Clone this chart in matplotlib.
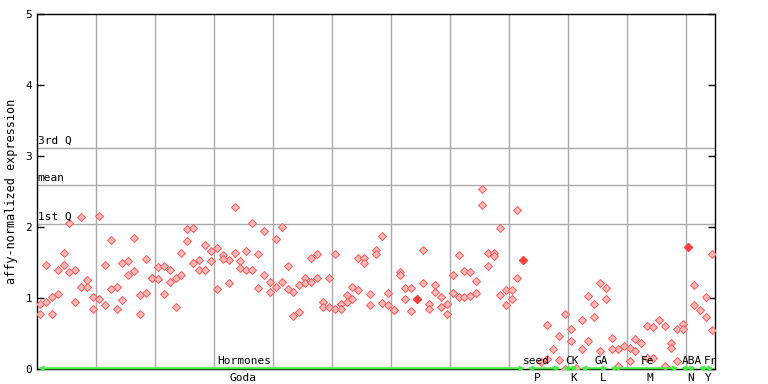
import numpy as np
import matplotlib
matplotlib.use("Agg")
import matplotlib.pyplot as plt

nan = np.nan

rep_a = [0.91, 1.46, 1.02, 1.39, 1.64, 2.05, 1.40, 2.14, 1.26, 1.01,
         2.16, 1.46, 1.81, 1.16, 1.49, 1.52, 1.85, 1.04, 1.55, 1.28,
         1.43, 1.45, 1.40, 1.28, 1.63, 1.97, 1.98, 1.53, 1.74, 1.66,
         1.70, 1.60, 1.53, 2.28, 1.52, 1.66, 2.05, 1.62, 1.95, 1.22,
         1.83, 2.00, 1.45, 1.08, 1.18, 1.28, 1.56, 1.62, 0.95, 1.28,
         1.62, 0.91, 1.04, 1.15, 1.57, 1.56, 1.05, 1.67, 1.88, 1.07,
         0.83, 1.36, 1.14, 1.14, nan, 1.67, 0.91, 1.18, 1.01, 0.91,
         1.33, 1.60, 1.38, 1.36, 1.24, 2.53, 1.64, 1.64, 1.98, 1.11,
         1.11, 2.24, nan, nan, nan, 0.10, 0.62, 0.28, 0.46, 0.77,
         0.56, 0.02, 0.69, 1.03, 0.92, 1.21, 1.14, 0.43, 0.28, 0.32,
         0.29, 0.42, 0.36, 0.61, 0.59, 0.69, 0.61, 0.36, 0.56, 0.64,
         nan, 1.19, 0.83, 1.02, 1.62]
rep_b = [0.78, 0.94, 0.77, 1.05, 1.47, 1.36, 0.94, 1.16, 1.15, 0.84,
         0.98, 0.90, 1.12, 0.84, 0.97, 1.33, 1.38, 0.77, 1.07, 1.28,
         1.27, 1.05, 1.22, 0.88, 1.33, 1.80, 1.49, 1.40, 1.39, 1.52,
         1.12, 1.55, 1.21, 1.63, 1.42, 1.39, 1.40, 1.14, 1.32, 1.09,
         1.15, 1.22, 1.12, 0.75, 0.80, 1.21, 1.22, 1.28, 0.88, 0.88,
         0.84, 0.85, 0.95, 0.98, 1.11, 1.50, 0.90, 1.62, 0.93, 0.90,
         0.83, 1.33, 0.98, 0.81, nan, 1.21, 0.85, 1.09, 0.87, 0.77,
         1.07, 1.02, 1.02, 1.03, 1.07, 2.31, 1.45, 1.59, 1.04, 0.90,
         0.98, 1.28, nan, nan, nan, nan, 0.14, nan, 0.12, 0.00,
         0.39, nan, 0.28, 0.39, 0.73, 0.25, 0.99, 0.28, 0.04, nan,
         0.11, 0.25, nan, 0.15, 0.15, nan, 0.04, 0.29, 0.11, 0.56,
         nan, 0.90, nan, 0.73, 0.55]

# points pleins
plein_x = [64, 82, 110]
plein_y = [0.98, 1.54, 1.72]

# statistiques
q1, moyenne, q3 = 2.04, 2.59, 3.11

# groupes (debut, fin) en colonnes, et etiquettes
groupes = [(0, 82), (83, 88), (89, 91), (92, 96), (97, 108), (109, 111), (112, 114)]
noms_haut = ["Hormones", "seed", "CK", "GA", "Fe", "ABA", "Fr"]
noms_bas = ["Goda", "P", "K", "L", "M", "N", "Y"]
pos_haut = [34.7, 84.2, 90.3, 95.2, 103.0, 110.6, 113.8]
pos_bas = [34.4, 84.4, 90.6, 95.5, 103.4, 110.4, 113.4]

police = "DejaVu Sans Mono"

fig = plt.figure(figsize=(7.68, 3.84), dpi=100)
ax = fig.add_axes([37 / 768, 15 / 384, 678 / 768, 355 / 384])

x = np.arange(len(rep_a))

# grille verticale
for gx in np.arange(9.5, 114, 10):
    ax.axvline(gx, color="#aaaaaa", lw=1, zorder=1)
# lignes des quartiles
for val, nom in [(q3, "3rd Q"), (moyenne, "mean"), (q1, "1st Q")]:
    ax.axhline(val, color="#aaaaaa", lw=1, zorder=1)
    ax.text(-0.4, val + 0.03, nom, family=police, fontsize=8, va="bottom", ha="left", zorder=4)

style = dict(marker="D", ms=3.6, mfc="#ffb8b8", mec="#ff5a5a", mew=0.7, ls="none", zorder=3)
ax.plot(x, rep_a, **style)
ax.plot(x, rep_b, **style)
ax.plot(plein_x, plein_y, marker="D", ms=4.2, color="#ff4040", ls="none", zorder=3)

# ligne verte des groupes
for (a, b) in groupes:
    ax.annotate("", xy=(a - 0.3, 0.01), xytext=(b + 0.3, 0.01),
                arrowprops=dict(arrowstyle="<->", color="#44ee44", lw=1.5,
                                mutation_scale=6, shrinkA=0, shrinkB=0),
                zorder=5, annotation_clip=False)

for nom, px in zip(noms_haut, pos_haut):
    ax.text(px, 0.04, nom, family=police, fontsize=8, ha="center", va="bottom", zorder=4)
for nom, px in zip(noms_bas, pos_bas):
    ax.text(px, -0.05, nom, family=police, fontsize=8, ha="center", va="top", clip_on=False)

ax.set_xlim(-0.5, 114.5)
ax.set_ylim(0, 5)
ax.set_xticks([])
ax.set_yticks(range(6))
ax.tick_params(axis="y", direction="in", length=5, width=1, right=True, labelsize=8)
for lab in ax.get_yticklabels():
    lab.set_family(police)
for s in ax.spines.values():
    s.set_color("black")
    s.set_linewidth(1)
ax.set_ylabel("affy-normalized expression", family=police, fontsize=8.5, labelpad=5)

fig.savefig("out.png", dpi=100)
